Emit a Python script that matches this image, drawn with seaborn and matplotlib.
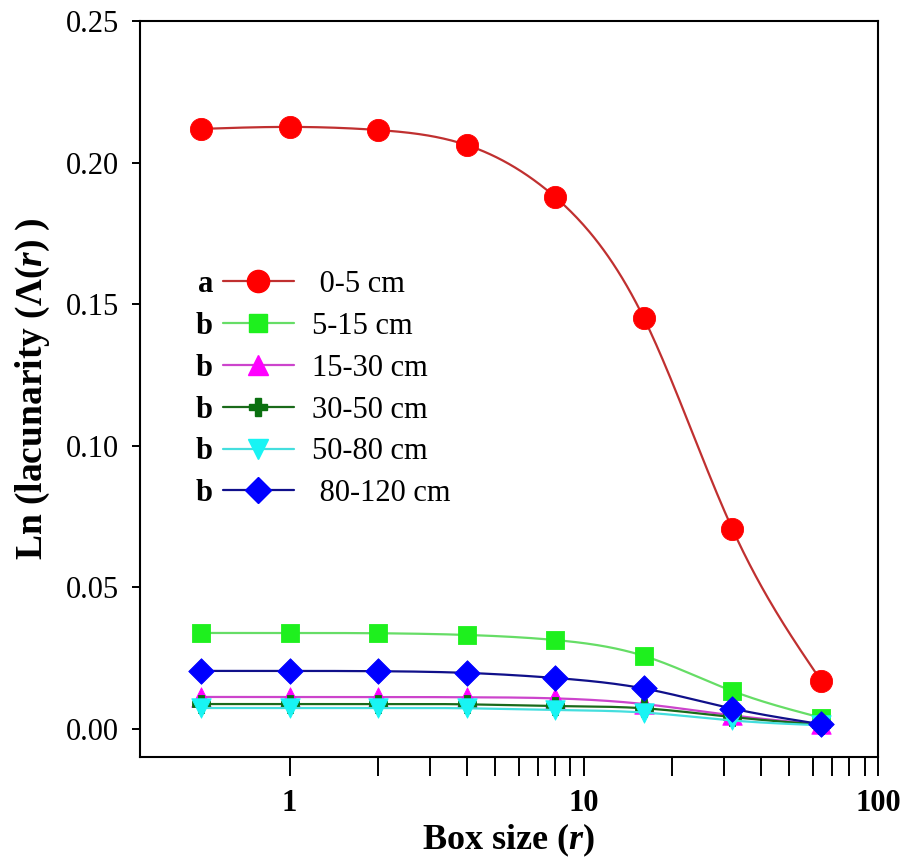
import numpy as np
import pandas as pd
import matplotlib
matplotlib.use("Agg")
import matplotlib.pyplot as plt
from matplotlib.lines import Line2D
from matplotlib.ticker import FixedLocator, FixedFormatter, FuncFormatter
import seaborn as sns

# Box sizes (r) and Ln(lacunarity) for each soil depth layer
box_size = [0.5, 1, 2, 4, 8, 16, 32, 64]
depths = ["0-5 cm", "5-15 cm", "15-30 cm", "30-50 cm", "50-80 cm", "80-120 cm"]
groups = ["a", "b", "b", "b", "b", "b"]
lac_0_5 = [0.2119, 0.2126, 0.2115, 0.2062, 0.1878, 0.1451, 0.0706, 0.0171]
lac_5_15 = [0.0339, 0.0339, 0.0338, 0.0332, 0.0314, 0.0258, 0.0134, 0.0040]
lac_15_30 = [0.0113, 0.0113, 0.0113, 0.0112, 0.0108, 0.0088, 0.0048, 0.0016]
lac_30_50 = [0.0088, 0.0088, 0.0088, 0.0087, 0.0081, 0.0073, 0.0042, 0.0015]
lac_50_80 = [0.0074, 0.0074, 0.0074, 0.0073, 0.0067, 0.0058, 0.0030, 0.0013]
lac_80_120 = [0.0205, 0.0205, 0.0204, 0.0198, 0.0180, 0.0143, 0.0072, 0.0017]
series = [lac_0_5, lac_5_15, lac_15_30, lac_30_50, lac_50_80, lac_80_120]

marker_colors = ["#ff0000", "#1ef01e", "#ff00ff", "#0a7010", "#18f4f4", "#0000ff"]
line_colors = ["#c03030", "#66dd66", "#cc44cc", "#1a6a1a", "#44dede", "#10108a"]
markers = ["o", "s", "^", "P", "v", "D"]
marker_sizes = [16, 13.5, 14, 13, 14, 13]


def natural_spline(xk, yk, xs):
    """Natural cubic spline through (xk, yk), evaluated at xs."""
    xk = np.asarray(xk, float)
    yk = np.asarray(yk, float)
    n = len(xk)
    h = np.diff(xk)
    A = np.zeros((n, n))
    rhs = np.zeros(n)
    A[0, 0] = A[-1, -1] = 1.0
    for i in range(1, n - 1):
        A[i, i - 1] = h[i - 1]
        A[i, i] = 2 * (h[i - 1] + h[i])
        A[i, i + 1] = h[i]
        rhs[i] = 3 * ((yk[i + 1] - yk[i]) / h[i] - (yk[i] - yk[i - 1]) / h[i - 1])
    c = np.linalg.solve(A, rhs)
    idx = np.clip(np.searchsorted(xk, xs) - 1, 0, n - 2)
    t = xs - xk[idx]
    b = (yk[idx + 1] - yk[idx]) / h[idx] - h[idx] * (2 * c[idx] + c[idx + 1]) / 3
    d = (c[idx + 1] - c[idx]) / (3 * h[idx])
    return yk[idx] + b * t + c[idx] * t ** 2 + d * t ** 3


# Long-form tables: measured points and the smoothed curve drawn through them
points = pd.DataFrame(
    [(r, v, dep) for dep, vals in zip(depths, series) for r, v in zip(box_size, vals)],
    columns=["r", "lac", "depth"],
)
logx = np.log10(box_size)
fine = np.linspace(logx[0], logx[-1], 400)
curves = pd.DataFrame(
    [(10 ** lx, v, dep)
     for dep, vals in zip(depths, series)
     for lx, v in zip(fine, natural_spline(logx, vals, fine))],
    columns=["r", "lac", "depth"],
)

sns.set_theme(style="ticks")
plt.rcParams["font.family"] = ["Liberation Serif", "DejaVu Serif"]
plt.rcParams["mathtext.fontset"] = "custom"
plt.rcParams["mathtext.rm"] = "Liberation Serif"
plt.rcParams["mathtext.it"] = "Liberation Serif:italic"
plt.rcParams["mathtext.bf"] = "Liberation Serif:bold"
plt.rcParams["mathtext.bfit"] = "Liberation Serif:bold:italic"
plt.rcParams["text.color"] = "black"
plt.rcParams["axes.labelcolor"] = "black"
plt.rcParams["xtick.color"] = "black"
plt.rcParams["ytick.color"] = "black"

fig = plt.figure(figsize=(9.02, 8.59), dpi=100)
ax = fig.add_axes([140 / 902, 102 / 859, 738 / 902, 736 / 859])

for i, dep in enumerate(depths):
    sub_c = curves[curves["depth"] == dep]
    sns.lineplot(data=sub_c, x="r", y="lac", color=line_colors[i], lw=1.6,
                 ax=ax, legend=False, zorder=2 + 2 * i, sort=False)
    sub_p = points[points["depth"] == dep]
    sns.scatterplot(data=sub_p, x="r", y="lac", marker=markers[i],
                    s=marker_sizes[i] ** 2, color=marker_colors[i],
                    edgecolor=marker_colors[i], linewidth=0.6,
                    ax=ax, legend=False, zorder=3 + 2 * i)

ax.set_xscale("log")
ax.set_xlim(0.31, 100)
ax.set_ylim(-0.0099, 0.25)

ax.xaxis.set_major_locator(FixedLocator([1, 10, 100]))
ax.xaxis.set_major_formatter(FixedFormatter(["1", "10", "100"]))
ax.xaxis.set_minor_locator(FixedLocator([2, 3, 4, 5, 6, 7, 8, 9,
                                         20, 30, 40, 50, 60, 70, 80, 90]))
ax.xaxis.set_minor_formatter(FixedFormatter([]))
ax.set_yticks([0.0, 0.05, 0.10, 0.15, 0.20, 0.25])
ax.yaxis.set_major_formatter(FuncFormatter(lambda v, p: f"{v:.2f}"))

ax.tick_params(axis="x", which="both", direction="out", length=14, width=1.4,
               color="black", pad=9, labelsize=22, top=False, labelcolor="black")
ax.tick_params(axis="y", which="both", direction="out", length=6, width=1.4,
               color="black", pad=9, labelsize=22, right=False, labelcolor="black")
for lab in ax.get_xticklabels():
    lab.set_fontweight("bold")
for sp in ax.spines.values():
    sp.set_visible(True)
    sp.set_linewidth(1.5)
    sp.set_color("black")

ax.set_xlabel(r"Box size ($\mathbfit{r}$)", fontsize=26, fontweight="bold",
              labelpad=3, color="black")
ax.set_ylabel(r"Ln (lacunarity ($\mathbf{\Lambda}$($\mathbfit{r}$) )",
              fontsize=27, fontweight="bold", labelpad=10, color="black")

handles = [
    Line2D([], [], color=line_colors[i], lw=1.6, marker=markers[i],
           markersize=marker_sizes[i], markerfacecolor=marker_colors[i],
           markeredgecolor=marker_colors[i])
    for i in range(len(depths))
]
legend_labels = [" " + depths[0]] + depths[1:5] + [" " + depths[5]]
leg = ax.legend(handles, legend_labels, loc="upper left",
                bbox_to_anchor=(223 / 902, 1 - 270 / 859),
                bbox_transform=fig.transFigure, frameon=False, fontsize=22,
                handlelength=2.32, handletextpad=0.58, labelspacing=0.42,
                borderpad=0, borderaxespad=0)
for t in leg.get_texts():
    t.set_color("black")

# Significance letters to the left of each legend row
fig.canvas.draw()
renderer = fig.canvas.get_renderer()
inv = fig.transFigure.inverted()
for txt, g in zip(leg.get_texts(), groups):
    bb = txt.get_window_extent(renderer)
    _, yc = inv.transform((0, (bb.y0 + bb.y1) / 2))
    fig.text(213 / 902, yc, g, ha="right", va="center", fontsize=22,
             fontweight="bold", color="black")

fig.savefig("out.png", dpi=100, facecolor="white")
